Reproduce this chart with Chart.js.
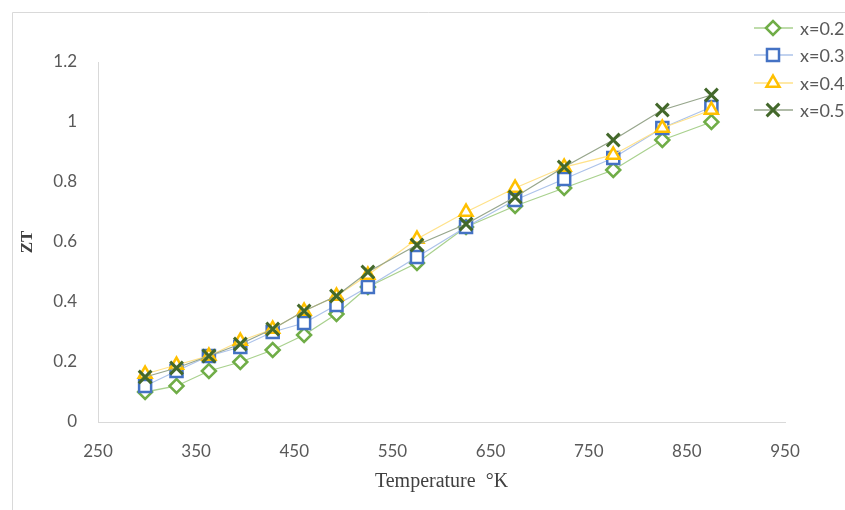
<!DOCTYPE html>
<html>
<head>
<meta charset="utf-8">
<script src="https://cdn.jsdelivr.net/npm/chart.js@4"></script>
<style>
  html, body { margin: 0; padding: 0; background: #fff; }
  #wrap { width: 845px; height: 510px; position: relative; }
</style>
</head>
<body>
<div id="wrap"><canvas id="ztChart"></canvas></div>
<script>
// Temperature (K) and ZT values
const temperatures = [298, 330, 363, 395, 428, 460, 493, 525, 575, 625, 675, 725, 775, 825, 875]
const zt02 = [0.10, 0.12, 0.17, 0.20, 0.24, 0.29, 0.36, 0.45, 0.53, 0.65, 0.72, 0.78, 0.84, 0.94, 1.00]
const zt03 = [0.12, 0.17, 0.22, 0.25, 0.30, 0.33, 0.39, 0.45, 0.55, 0.65, 0.74, 0.81, 0.88, 0.98, 1.05]
const zt04 = [0.16, 0.19, 0.22, 0.27, 0.31, 0.37, 0.42, 0.49, 0.61, 0.70, 0.78, 0.85, 0.89, 0.98, 1.04]
const zt05 = [0.15, 0.18, 0.22, 0.26, 0.31, 0.37, 0.42, 0.50, 0.59, 0.66, 0.75, 0.85, 0.94, 1.04, 1.09]
const seriesLabels = ['x=0.2', 'x=0.3', 'x=0.4', 'x=0.5']

const toPoints = (ys) => ys.map((y, i) => ({ x: temperatures[i], y: y }))

const makeSet = (label, values, lineColor, markColor, style, radius, width, order) => ({
    label: label,
    data: toPoints(values),
    borderColor: lineColor,
    borderWidth: 1.3,
    pointStyle: style,
    pointRadius: radius,
    pointBorderColor: markColor,
    pointBackgroundColor: '#ffffff',
    pointBorderWidth: width,
    fill: false,
    tension: 0,
    order: order
})

// frame + custom legend (like the Excel one, clipped at the right edge)
const framePlugin = {
    id: 'frame',
    beforeDraw(chart) {
        const ctx = chart.ctx
        ctx.save()
        ctx.fillStyle = '#ffffff'
        ctx.fillRect(0, 0, chart.width, chart.height)
        ctx.strokeStyle = '#d9d9d9'
        ctx.lineWidth = 1
        ctx.beginPath()
        ctx.moveTo(12.5, chart.height)
        ctx.lineTo(12.5, 12.5)
        ctx.lineTo(chart.width, 12.5)
        ctx.stroke()
        ctx.restore()
    },
    afterDraw(chart) {
        const ctx = chart.ctx
        const rows = [28, 55, 83, 110]
        ctx.save()
        chart.data.datasets.forEach((ds, i) => {
            const y = rows[i]
            ctx.strokeStyle = ds.borderColor
            ctx.lineWidth = 1.3
            ctx.beginPath()
            ctx.moveTo(754, y)
            ctx.lineTo(793, y)
            ctx.stroke()
            ctx.strokeStyle = ds.pointBorderColor
            ctx.fillStyle = '#ffffff'
            ctx.lineWidth = ds.pointBorderWidth
            Chart.helpers.drawPoint(ctx, { pointStyle: ds.pointStyle, radius: ds.pointRadius, rotation: 0, borderWidth: ds.pointBorderWidth }, 773, y)
            ctx.fillStyle = '#595959'
            ctx.font = '18px Lato'
            ctx.textAlign = 'left'
            ctx.textBaseline = 'middle'
            ctx.fillText(ds.label, 800, y + 1)
        })
        ctx.restore()
    }
}

const render = () => {
    const datasets = [
        makeSet(seriesLabels[0], zt02, '#a9d18e', '#70ad47', 'rectRot', 7, 2.5, 4),
        makeSet(seriesLabels[1], zt03, '#adc3ea', '#4472c4', 'rect', 8.5, 2.5, 3),
        makeSet(seriesLabels[2], zt04, '#ffe28a', '#ffc000', 'triangle', 7.5, 2.5, 2),
        makeSet(seriesLabels[3], zt05, '#97a68c', '#43682b', 'crossRot', 9, 3, 1)
    ]

    new Chart(document.getElementById('ztChart'), {
        type: 'line',
        data: { datasets: datasets },
        options: {
            responsive: true,
            maintainAspectRatio: false,
            animation: false,
            layout: { padding: { top: 62, right: 60, left: 0, bottom: 0 } },
            plugins: {
                legend: { display: false },
                tooltip: { enabled: false }
            },
            scales: {
                x: {
                    type: 'linear',
                    min: 250,
                    max: 950,
                    ticks: { stepSize: 100, padding: 19, color: '#595959', font: { family: 'Lato', size: 17 } },
                    grid: { display: false, drawTicks: false },
                    border: { display: true, color: '#d9d9d9', width: 1 },
                    title: {
                        display: true,
                        text: 'Temperature  °K',
                        color: '#404040',
                        font: { family: 'Liberation Serif', size: 20 },
                        padding: { top: 0, bottom: 16 }
                    },
                    afterFit: (scale) => { scale.height = 88 }
                },
                y: {
                    min: 0,
                    max: 1.2,
                    ticks: {
                        stepSize: 0.2,
                        padding: 21,
                        color: '#595959',
                        font: { family: 'Lato', size: 17 },
                        callback: (v) => Number(v.toFixed(1)).toString()
                    },
                    grid: { display: false, drawTicks: false },
                    border: { display: true, color: '#d9d9d9', width: 1 },
                    title: {
                        display: true,
                        text: 'ZT',
                        color: '#404040',
                        font: { family: 'Liberation Serif', size: 17, weight: 'bold' },
                        padding: { top: 17, bottom: 0 }
                    },
                    afterFit: (scale) => { scale.width = 98 }
                }
            }
        },
        plugins: [framePlugin]
    })
}

render()
</script>
</body>
</html>
